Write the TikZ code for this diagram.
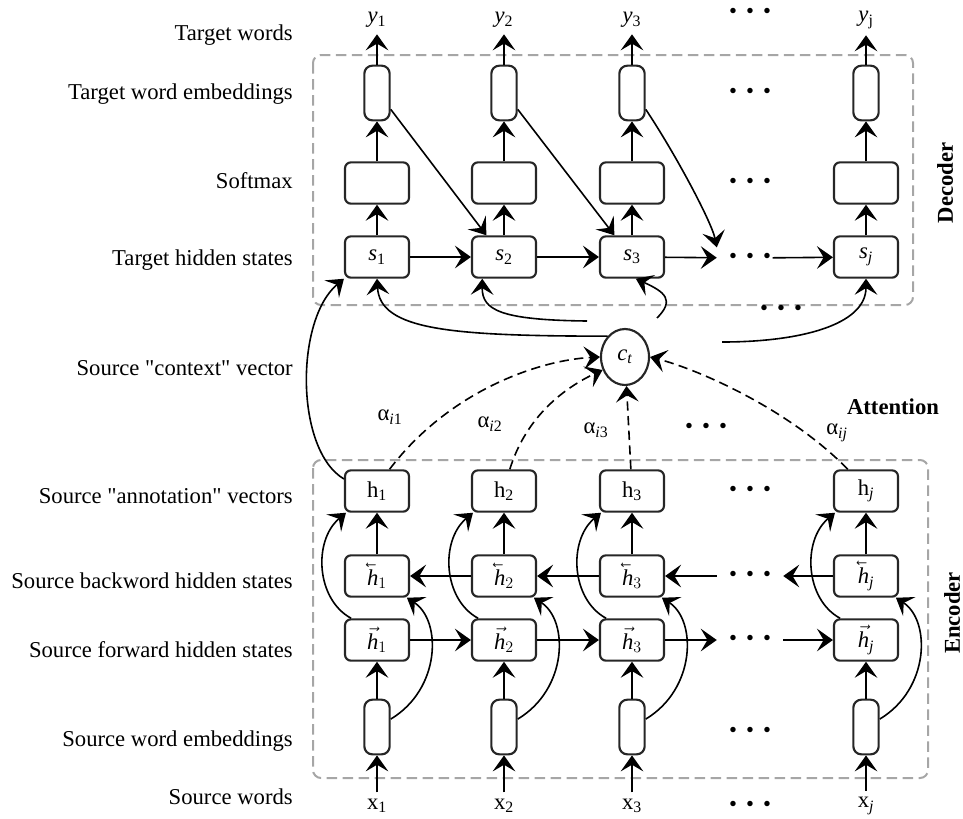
\documentclass[tikz,border=0pt]{standalone}
\usepackage{fontspec}
\setmainfont{Liberation Serif}
\usepackage{amsmath}
\usepackage{graphicx}
\usetikzlibrary{arrows.meta,shapes.geometric}

\newcommand{\fwdh}{\ensuremath{\vec{\textit{h}}}}
\newcommand{\bwdh}{\reflectbox{\ensuremath{\vec{\reflectbox{\textit{h}}}}}}

\begin{document}
\begin{tikzpicture}[x=0.75pt,y=-0.75pt,font=\fontsize{17}{20}\selectfont,
    conn/.style={line width=1.2pt,-{Stealth[length=12pt,width=17pt,inset=5pt]}},
    att/.style={conn,dash pattern=on 7pt off 4pt},
    cell/.style={draw=black!85,line width=1.6pt,rounded corners=4.5pt,minimum width=48pt,minimum height=31pt,inner sep=0pt},
    emb/.style={cell,rounded corners=6pt,minimum width=19pt,minimum height=41pt},
    ctx/.style={draw=black!85,line width=1.6pt,ellipse,minimum width=36pt,minimum height=42pt,inner sep=0pt},
    group/.style={draw=black!35,line width=1.5pt,dash pattern=on 8pt off 4pt,rounded corners=6pt},
    rowlabel/.style={anchor=base east,inner sep=0pt},
    dotsbox/.style={inner xsep=9pt,inner ysep=1pt},
    wordlabel/.style={inner sep=0pt,outer sep=5pt}]
    \pgfmathsetmacro{\yTw}{20}   % target words
    \pgfmathsetmacro{\yTe}{93}   % target word embeddings
    \pgfmathsetmacro{\ySm}{183}  % softmax
    \pgfmathsetmacro{\yTs}{257}  % target hidden states
    \pgfmathsetmacro{\yH}{491}   % annotation vectors
    \pgfmathsetmacro{\yHb}{576}  % backward states
    \pgfmathsetmacro{\yHf}{640}  % forward states
    \pgfmathsetmacro{\ySe}{727}  % source word embeddings
    \pgfmathsetmacro{\ySw}{806}  % source words
    \providecommand{\threedots}{\textbullet\hspace{6.8pt}\textbullet\hspace{6.8pt}\textbullet}
    \providecommand{\qt}{\textquotedbl}
    \useasboundingbox (0,0) rectangle (963,818);

    \draw[group] (313,55) rectangle (913,305);
    \draw[group] (313,460) rectangle (928,778);

    \node[rowlabel] (lbtw) at (293,40) {Target words};
    \node[rowlabel] (lbte) at (293,99) {Target word embeddings};
    \node[rowlabel] (lbsm) at (293,188) {Softmax};
    \node[rowlabel] (lbts) at (293,265) {Target hidden states};
    \node[rowlabel] (lbct) at (293,375) {Source \qt context\qt{} vector};
    \node[rowlabel] (lbh) at (293,503) {Source \qt annotation\qt{} vectors};
    \node[rowlabel] (lbhb) at (293,588) {Source backword hidden states};
    \node[rowlabel] (lbhf) at (293,657) {Source forward hidden states};
    \node[rowlabel] (lbse) at (293,746) {Source word embeddings};
    \node[rowlabel] (lbsw) at (293,804) {Source words};

    \foreach \i/\cx/\sub/\ysub in {1/377/1/1,2/504/2/2,3/632/3/3,j/866/\textit{j}/j}{
        % decoder column
        \node[wordlabel] (ty\i) at (\cx,\yTw) {\textit{y}\textsubscript{\ysub}};
        \node[emb] (te\i) at (\cx,\yTe) {};
        \node[cell] (sm\i) at (\cx,\ySm) {};
        \node[cell] (s\i) at (\cx,\yTs) {\textit{s}\textsubscript{\sub}};
        \draw[conn] (s\i) -- (sm\i);
        \draw[conn] (sm\i) -- (te\i);
        \draw[conn] (te\i) -- (ty\i);
        % encoder column
        \node[cell] (h\i) at (\cx,\yH) {h\textsubscript{\sub}};
        \node[cell] (hb\i) at (\cx,\yHb) {\bwdh$_{\sub}$};
        \node[cell] (hf\i) at (\cx,\yHf) {\fwdh$_{\sub}$};
        \node[emb] (se\i) at (\cx,\ySe) {};
        \node[wordlabel] (x\i) at (\cx,\ySw) {x\textsubscript{\sub}};
        \draw[conn] (x\i) -- (se\i);
        \draw[conn] (se\i) -- (hf\i);
        \draw[conn] (hb\i) -- (h\i);
        \draw[conn] (hf\i.140) .. controls +(-35,-19) and +(-33,28) .. (h\i.-145);
        \draw[conn] (se\i.30) .. controls +(50,-30) and +(35,23) .. (hb\i.-36);
    }

    \node[dotsbox] (dd1) at (750,13) {\threedots};
    \node[dotsbox] (dd2) at (750,93) {\threedots};
    \node[dotsbox] (dd3) at (750,183) {\threedots};
    \node[dotsbox] (dd4) at (750,258) {\threedots};
    \node[dotsbox] (dd5) at (781,310) {\threedots};
    \node[dotsbox] (da) at (706,428) {\threedots};
    \node[dotsbox] (de1) at (750,491) {\threedots};
    \node[dotsbox] (de2) at (750,576) {\threedots};
    \node[dotsbox] (de3) at (750,640) {\threedots};
    \node[dotsbox] (de4) at (750,732) {\threedots};
    \node[dotsbox] (de5) at (750,806) {\threedots};

    % decoder recurrence
    \draw[conn] (s1) -- (s2);
    \draw[conn] (s2) -- (s3);
    \draw[conn] (s3) -- (dd4);
    \draw[conn,shorten <=-8pt] (dd4) -- (sj);
    \draw[conn] (te1.-50) -- (s2.129);
    \draw[conn] (te2.-50) -- (s3.129);
    \draw[conn] (te3.-50) .. controls +(30,45) and +(-5,-25) .. ([yshift=8pt]dd4.west);

    % encoder recurrence
    \draw[conn] (hf1) -- (hf2);
    \draw[conn] (hf2) -- (hf3);
    \draw[conn] (hf3) -- (de3);
    \draw[conn] (de3) -- (hfj);
    \draw[conn] (hbj) -- (de2);
    \draw[conn] (de2) -- (hb3);
    \draw[conn] (hb3) -- (hb2);
    \draw[conn] (hb2) -- (hb1);

    % context vector
    \node[ctx] (ct) at (625,357) {\textit{c}\textsubscript{\textit{t}}};
    \coordinate (cs2) at (587,321);
    \coordinate (cs3) at (657,318);
    \coordinate (csj) at (722,342);
    \draw[conn] (ct.130) .. controls (450,336) and (380,330) .. (s1.south);
    \draw[conn] (cs2) .. controls (500,320) and (482,310) .. (s2.-135);
    \draw[conn] (cs3) .. controls (675,300) and (665,292) .. (s3.-80);
    \draw[conn] (csj) .. controls (800,342) and (866,325) .. (sj.south);
    \draw[conn] (h1.160) .. controls (295,450) and (295,320) .. (s1.south west);

    % attention
    \draw[att] (h1.60) .. controls (450,390) and (540,360) .. (ct.west);
    \draw[att] (h2.75) .. controls (525,420) and (560,390) .. (ct.210);
    \draw[att] (h3) -- (ct);
    \draw[att] (hj.130) .. controls (790,410) and (700,370) .. (ct.east);
    \node (a1) at (390,417) {α\textsubscript{\textit{i}1}};
    \node (a2) at (490,424) {α\textsubscript{\textit{i}2}};
    \node (a3) at (596,430) {α\textsubscript{\textit{i}3}};
    \node (aj) at (837,433) {α\textsubscript{\textit{ij}}};

    \node[font=\fontsize{17}{20}\selectfont\bfseries] (att) at (893,407) {Attention};
    \node[font=\fontsize{17}{20}\selectfont\bfseries,rotate=90] (dec) at (945,183) {Decoder};
    \node[font=\fontsize{17}{20}\selectfont\bfseries,rotate=90] (enc) at (952,613) {Encoder};
\end{tikzpicture}
\end{document}
